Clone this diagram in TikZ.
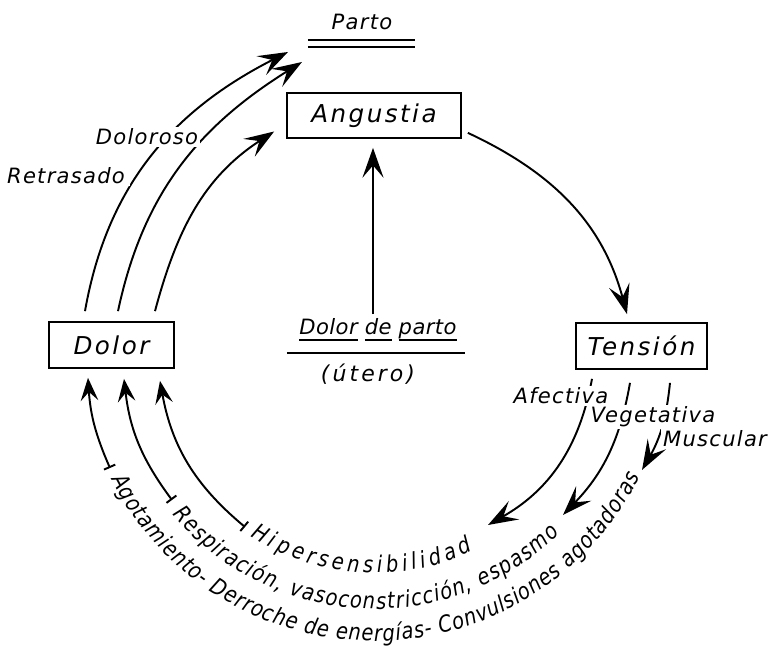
\documentclass[tikz,border=0pt]{standalone}
\usepackage{fontspec}
\setmainfont{DejaVu Sans}[ItalicFont={DejaVu Sans Oblique}]
\newfontfamily{\arcfont}{DejaVu Sans Oblique}[FakeStretch=0.85]
\usetikzlibrary{arrows.meta,calc,decorations.text}
\newcommand{\uword}[1]{\setbox0\hbox{#1}\leavevmode\rlap{\rule[-3.5pt]{\wd0}{1pt}}\box0\relax}

\begin{document}
\begin{tikzpicture}
[x=0.02cm,y=0.02cm,line width=1.1pt,
box/.style={draw,line width=1pt,inner sep=0pt,font=\itshape\fontsize{14}{16}\selectfont\addfontfeatures{LetterSpace=10}},
lab/.style={fill=white,inner sep=1pt,font=\itshape\fontsize{12}{14}\selectfont\addfontfeatures{LetterSpace=6}},
arr/.style={-{Stealth[length=17pt,width=12pt,inset=7pt]}},
back/.style={{Bar[width=7pt]}-{Stealth[length=13pt,width=10pt,inset=5pt]}}]
\useasboundingbox (-375,-306) rectangle (393,345);
% the three boxes
\node (angustia) at (-1,229.5) [box,minimum width=3.48cm,minimum height=0.9cm] {Angustia};
\node (dolor) at (-263.5,0) [box,minimum width=2.5cm,minimum height=0.92cm] {Dolor};
\node (tension) at (266.5,-1) [box,minimum width=2.62cm,minimum height=0.92cm] {Tensión};
% top and middle texts
\node (parto) at (-13,323) [lab] {Parto};
\draw[line width=1pt] ($(parto)+(-54,-18)$) -- ($(parto)+(53,-18)$)
  ($(parto)+(-54,-25)$) -- ($(parto)+(53,-25)$);
\node (dp) at (3,15) [lab,font=\itshape\fontsize{12}{14}\selectfont\addfontfeatures{LetterSpace=2}] {\uword{Dolor} \uword{de} \uword{parto}};
\draw[line width=1pt] ($(dp)+(-91,-23)$) -- ($(dp)+(87,-23)$);
\node (utero) at (-7,-29) [lab,font=\itshape\fontsize{12.5}{14}\selectfont\addfontfeatures{LetterSpace=14}] {(útero)};
% free ends
\coordinate (p1) at (-87,293);
\coordinate (p2) at (-73,283);
\coordinate (t1) at (-265,-123);
\coordinate (t2) at (-203,-155);
\coordinate (t3) at (-130,-182);
\coordinate (hiper) at (113,-180);
\coordinate (espasmo) at (188,-170);
\coordinate (convul) at (267,-125);
% upper arcs
\draw[arr] ($(dolor.north)+(-26.5,10)$) to[out=80,in=207] (p1);
\draw[arr] ($(dolor.north)+(6.5,10)$) to[out=78,in=212] (p2);
\draw[arr] ($(dolor.north)+(43.5,10)$) to[out=75,in=213] ($(angustia.west)+(-12,-16)$);
\draw[arr] ($(dp.north)+(-5,2)$) -- ($(angustia.south)+(-1,-9)$);
\draw[arr] ($(angustia.south east)+(6,6)$) to[out=-25,in=105] ($(tension.north)+(-14.5,8)$);
% from tension
\draw[arr] ($(tension.south)+(-49.5,-9)$) to[bend left=25] (hiper);
\draw[arr] ($(tension.south)+(-11.5,-13)$) to[bend left=17] (espasmo);
\draw[arr] ($(tension.south)+(28.5,-13)$) to[bend left=12] (convul);
% back to dolor
\draw[back] (t1) to[bend left=10] ($(dolor.south)+(-23.5,-9)$);
\draw[back] (t2) to[bend left=15] ($(dolor.south)+(12.5,-10)$);
\draw[back] (t3) to[bend left=20] ($(dolor.south)+(48.5,-12)$);
% labels over the lines
\node (retrasado) at (-309,169) [lab,inner xsep=3pt] {Retrasado};
\node (doloroso) at (-228,208) [lab] {Doloroso};
\node (afectiva) at (186,-51) [lab] {Afectiva};
\node (vegetativa) at (278,-72) [lab] {Vegetativa};
\node (muscular) at (340,-94) [lab] {Muscular};
% texts round the bottom
\path[decorate,decoration={text along path,text align=fit to path,
  text={|\arcfont\fontsize{13}{15}\selectfont|Agotamiento- Derroche de energías- Convulsiones agotadoras{ }}}]
  (207:296) arc[start angle=207,end angle=335,radius=296];
\path[decorate,decoration={text along path,text align=fit to path,
  text={|\arcfont\fontsize{13}{15}\selectfont|Respiración, vasoconstricción, espasmo{ }}}]
  (220:264) arc[start angle=220,end angle=316,radius=264];
\path[decorate,decoration={text along path,text align=fit to path,
  text={|\arcfont\fontsize{13}{15}\selectfont|Hipersensibilidad{ }}}]
  (237:228) arc[start angle=237,end angle=298,radius=228];
\end{tikzpicture}
\end{document}
